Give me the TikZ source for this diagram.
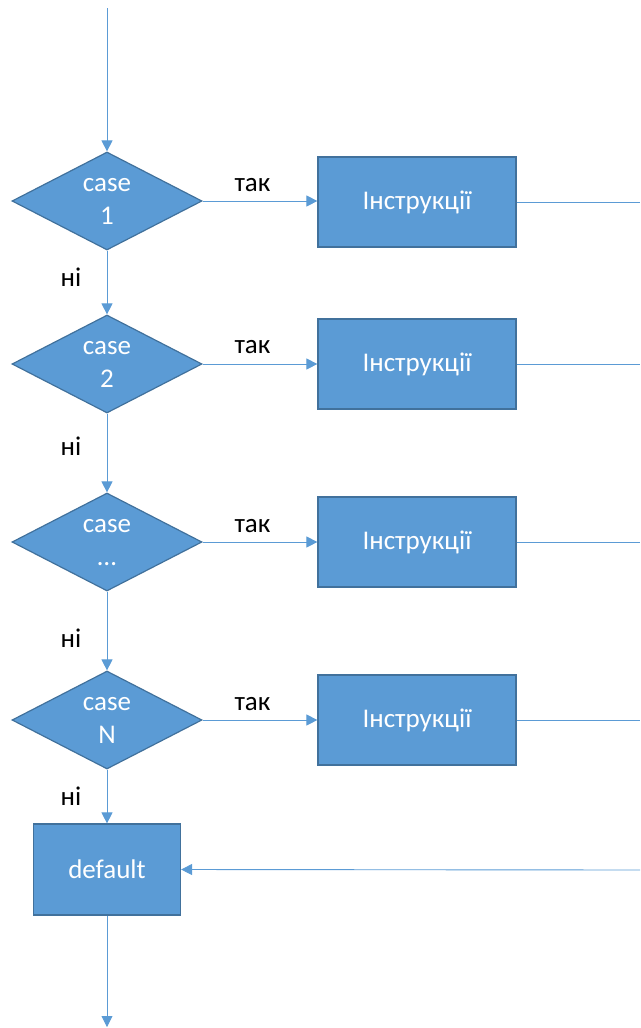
\documentclass[tikz,border=0pt]{standalone}
\usepackage{fontspec}
\setmainfont{Carlito}
\usetikzlibrary{shapes.geometric,arrows.meta}
\definecolor{boxfill}{HTML}{5B9BD5}
\definecolor{boxline}{HTML}{41719C}
\definecolor{wire}{HTML}{5B9BD5}
\begin{document}
\begin{tikzpicture}[x=1pt,y=-1pt,
  shapetext/.style={font=\fontsize{27}{33}\selectfont, text=white, align=center},
  decision/.style={diamond, shapetext, fill=boxfill, draw=boxline, line width=1.2pt,
    minimum width=190pt, minimum height=98pt, inner sep=0pt, aspect=1.94, text depth=0pt},
  action/.style={rectangle, shapetext, fill=boxfill, draw=boxline, line width=1.2pt,
    minimum width=198pt, minimum height=90pt, inner sep=0pt},
  lbl/.style={font=\fontsize{27}{32}\selectfont, anchor=base, inner sep=0pt},
  flow/.style={draw=wire, line width=0.9pt, -{Triangle[length=11pt,width=11pt]}},
  plain/.style={draw=wire, line width=0.9pt}]
\useasboundingbox (0,0) rectangle (640,1028);

% decisions
\node[decision] (c1) at (107,201) {case\\1};
\node[decision] (c2) at (107,364) {case\\2};
\node[decision] (c3) at (107,542) {case\\…};
\node[decision] (c4) at (107,720) {case\\N};

% instruction blocks
\node[action] (i1) at (417,202) {Інструкції};
\node[action] (i2) at (417,364) {Інструкції};
\node[action] (i3) at (417,542) {Інструкції};
\node[action] (i4) at (417,720) {Інструкції};

% default block
\node[action, minimum width=147pt, minimum height=91pt] (def) at (107,869.5) {default};

% free ends
\coordinate (start) at (107,8);
\coordinate (finish) at (107,1027);
\coordinate (o1) at (640,202);
\coordinate (o2) at (640,364);
\coordinate (o3) at (640,542);
\coordinate (o4) at (640,720);
\coordinate (back) at (640,870);

% vertical chain
\draw[flow] (start) -- (c1.north);
\draw[flow] (c1.south) -- (c2.north);
\draw[flow] (c2.south) -- (c3.north);
\draw[flow] (c3.south) -- (c4.north);
\draw[flow] (c4.south) -- (def.north);
\draw[flow] (def.south) -- (finish);

% yes branches
\draw[flow] (c1.east) -- (c1.east -| i1.west);
\draw[flow] (c2.east) -- (c2.east -| i2.west);
\draw[flow] (c3.east) -- (c3.east -| i3.west);
\draw[flow] (c4.east) -- (c4.east -| i4.west);

% outgoing lines from blocks
\draw[plain] (i1.east) -- (o1);
\draw[plain] (i2.east) -- (o2);
\draw[plain] (i3.east) -- (o3);
\draw[plain] (i4.east) -- (o4);
\draw[flow] (back) -- (def.east);

% branch labels
\node[lbl] (y1) at (252.5,191) {так};
\node[lbl] (y2) at (252.5,353) {так};
\node[lbl] (y3) at (252.5,532) {так};
\node[lbl] (y4) at (252.5,710) {так};
\node[lbl] (n1) at (71,286) {ні};
\node[lbl] (n2) at (71,455) {ні};
\node[lbl] (n3) at (71,647) {ні};
\node[lbl] (n4) at (71,805) {ні};
\end{tikzpicture}
\end{document}
